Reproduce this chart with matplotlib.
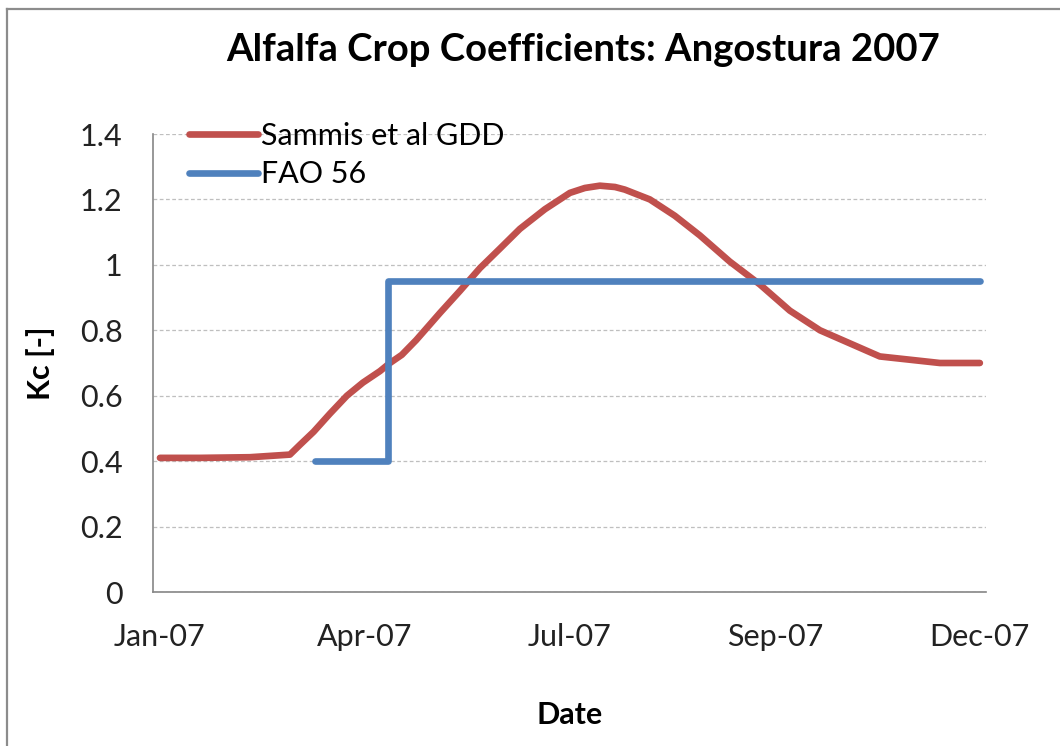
import matplotlib
matplotlib.use('Agg')
import matplotlib.pyplot as plt
from matplotlib.lines import Line2D

plt.rcParams['font.family'] = ['Lato', 'DejaVu Sans']

# x positions are in label intervals (0 = Jan-07 ... 4 = Dec-07)
tick_labels = ['Jan-07', 'Apr-07', 'Jul-07', 'Sep-07', 'Dec-07']
tick_pos = [0, 1, 2, 3, 4]

sammis_x = [0, 0.195, 0.439, 0.634, 0.683, 0.75, 0.829, 0.912, 0.99, 1.073, 1.122,
            1.18, 1.25, 1.32, 1.366, 1.463, 1.561, 1.659, 1.756, 1.878, 2.0, 2.073,
            2.146, 2.22, 2.268, 2.39, 2.512, 2.634, 2.78, 2.927, 3.073, 3.22,
            3.366, 3.512, 3.659, 3.805, 4.0]
sammis_kc = [0.41, 0.41, 0.412, 0.42, 0.45, 0.49, 0.545, 0.60, 0.64, 0.675, 0.70,
             0.725, 0.77, 0.82, 0.853, 0.92, 0.99, 1.05, 1.11, 1.17, 1.22, 1.235,
             1.242, 1.238, 1.23, 1.20, 1.15, 1.09, 1.01, 0.94, 0.86, 0.80,
             0.76, 0.72, 0.71, 0.70, 0.70]

fao_x = [0.756, 1.112, 1.112, 4.0]
fao_kc = [0.40, 0.40, 0.95, 0.95]

red = '#C0504D'
blue = '#4F81BD'

fig = plt.figure(figsize=(10.6, 7.46), dpi=100)
ax = fig.add_axes([153 / 1060, 1 - 592 / 746, (986 - 153) / 1060, (592 - 134) / 746])

ax.plot(sammis_x, sammis_kc, color=red, lw=4.8, solid_capstyle='round',
        solid_joinstyle='round', label='Sammis et al GDD')
ax.plot(fao_x, fao_kc, color=blue, lw=4.8, solid_capstyle='round',
        label='FAO 56')

ax.set_xlim(-0.034, 4.03)
ax.set_ylim(0, 1.4)
ax.set_yticks([0, 0.2, 0.4, 0.6, 0.8, 1.0, 1.2, 1.4])
ax.set_yticklabels(['0', '0.2', '0.4', '0.6', '0.8', '1', '1.2', '1.4'])
ax.set_xticks(tick_pos)
ax.set_xticklabels(tick_labels)
ax.tick_params(length=0, labelsize=22, colors='#222222')
ax.tick_params(axis='y', pad=22)
ax.tick_params(axis='x', pad=22)

ax.grid(axis='y', color='#BFBFBF', ls=(0, (3, 2)), lw=0.9)
ax.set_axisbelow(True)
for s in ['top', 'right']:
    ax.spines[s].set_visible(False)
for s in ['left', 'bottom']:
    ax.spines[s].set_color('#868686')
    ax.spines[s].set_linewidth(1.2)

ax.set_xlabel('Date', fontsize=22, fontweight='bold', labelpad=36)
ax.set_ylabel('Kc [-]', fontsize=22, fontweight='bold', labelpad=18)

fig.text(583 / 1060, 1 - 50 / 746, 'Alfalfa Crop Coefficients: Angostura 2007',
         ha='center', va='center', fontsize=27.5, fontweight='bold')

ax.legend(loc='upper left', bbox_to_anchor=(0.025, 1.06), frameon=False,
          fontsize=22, handlelength=2.25, handletextpad=0.1, labelspacing=0.35,
          borderpad=0)

# outer chart border (left and top edges visible)
fig.add_artist(Line2D([7 / 1060, 7 / 1060], [0, 1 - 9 / 746], transform=fig.transFigure,
                      color='#8C8C8C', lw=1.6))
fig.add_artist(Line2D([7 / 1060, 1], [1 - 9 / 746, 1 - 9 / 746], transform=fig.transFigure,
                      color='#8C8C8C', lw=1.6))

fig.savefig('out.png', dpi=100)
